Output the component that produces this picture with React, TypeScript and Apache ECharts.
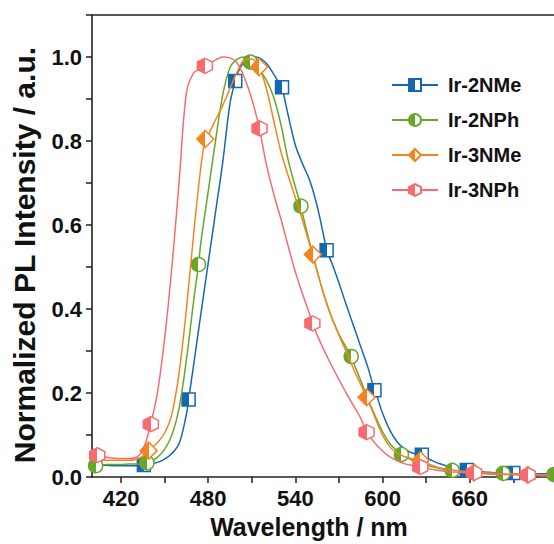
import React, { useEffect, useRef } from "react";
import * as echarts from "echarts";

const seriesNames = ["Ir-2NMe", "Ir-2NPh", "Ir-3NMe", "Ir-3NPh"];
const seriesColors = ["#1667b1", "#66a72b", "#f5841f", "#f86b6e"];

const wavelengths = [
  400, 405, 410, 415, 420, 425, 430, 435, 440, 445, 450, 455, 460, 465, 470, 475,
  480, 485, 490, 495, 500, 505, 510, 515, 520, 525, 530, 535, 540, 545, 550, 555,
  560, 565, 570, 575, 580, 585, 590, 595, 600, 605, 610, 615, 620, 625, 630, 635,
  640, 645, 650, 655, 660, 665, 670, 675, 680, 685, 690, 695, 700, 705, 710, 715,
];

const ir2NMe = [
  0.030, 0.029, 0.028, 0.027, 0.027, 0.027, 0.027, 0.028, 0.030, 0.035, 0.043, 0.056, 0.080, 0.150, 0.268, 0.390,
  0.510, 0.630, 0.750, 0.890, 0.960, 0.990, 1.000, 0.998, 0.985, 0.960, 0.930, 0.862, 0.790, 0.745, 0.705, 0.645,
  0.565, 0.510, 0.462, 0.410, 0.360, 0.310, 0.260, 0.205, 0.152, 0.112, 0.084, 0.067, 0.058, 0.054, 0.046, 0.038,
  0.031, 0.026, 0.022, 0.019, 0.016, 0.014, 0.012, 0.011, 0.010, 0.010, 0.010, 0.009, 0.009, 0.008, 0.008, 0.008,
];
const ir2NPh = [
  0.025, 0.028, 0.030, 0.030, 0.030, 0.031, 0.031, 0.032, 0.036, 0.047, 0.066, 0.100, 0.165, 0.280, 0.420, 0.560,
  0.680, 0.800, 0.910, 0.975, 0.995, 1.000, 0.985, 0.970, 0.945, 0.905, 0.840, 0.755, 0.690, 0.625, 0.555, 0.490,
  0.430, 0.380, 0.340, 0.308, 0.272, 0.230, 0.185, 0.145, 0.108, 0.080, 0.062, 0.050, 0.041, 0.034, 0.028, 0.024,
  0.020, 0.017, 0.015, 0.013, 0.012, 0.011, 0.010, 0.009, 0.009, 0.008, 0.008, 0.007, 0.007, 0.006, 0.006, 0.006,
];
const ir3NMe = [
  0.040, 0.040, 0.040, 0.040, 0.040, 0.040, 0.042, 0.050, 0.066, 0.082, 0.105, 0.150, 0.250, 0.400, 0.580, 0.740,
  0.815, 0.850, 0.885, 0.925, 0.965, 0.993, 0.995, 0.976, 0.925, 0.850, 0.775, 0.718, 0.665, 0.610, 0.552, 0.490,
  0.430, 0.380, 0.338, 0.298, 0.258, 0.220, 0.183, 0.140, 0.100, 0.072, 0.057, 0.049, 0.044, 0.040, 0.033, 0.027,
  0.022, 0.019, 0.016, 0.014, 0.012, 0.011, 0.010, 0.009, 0.008, 0.007, 0.006, 0.006, 0.005, 0.005, 0.004, 0.004,
];
const ir3NPh = [
  0.062, 0.052, 0.047, 0.045, 0.044, 0.044, 0.046, 0.065, 0.118, 0.200, 0.330, 0.500, 0.705, 0.915, 0.962, 0.972,
  0.982, 0.993, 1.000, 0.998, 0.985, 0.950, 0.900, 0.835, 0.745, 0.675, 0.615, 0.550, 0.488, 0.435, 0.385, 0.338,
  0.300, 0.265, 0.232, 0.200, 0.170, 0.140, 0.102, 0.080, 0.062, 0.048, 0.039, 0.032, 0.028, 0.025, 0.021, 0.018,
  0.015, 0.013, 0.012, 0.011, 0.010, 0.009, 0.008, 0.007, 0.007, 0.006, 0.006, 0.005, 0.005, 0.005, 0.004, 0.004,
];

// marker points [wavelength, intensity]
const ir2NMeMarkers = [
  [435.7, 0.029], [466.5, 0.185], [498.6, 0.943], [530.8, 0.928], [561.5, 0.540],
  [594.4, 0.207], [627, 0.053], [658, 0.017], [690, 0.010],
];
const ir2NPhMarkers = [
  [402.5, 0.027], [437.8, 0.034], [473.3, 0.506], [508.9, 0.988], [543.8, 0.645],
  [578.4, 0.287], [613, 0.054], [648, 0.016], [683, 0.009], [718, 0.006],
];
const ir3NMeMarkers = [
  [439, 0.063], [478, 0.805], [515, 0.976], [552, 0.530],
  [589, 0.190], [626, 0.040], [663, 0.011], [700, 0.005],
];
const ir3NPhMarkers = [
  [403.6, 0.052], [440.5, 0.126], [477.7, 0.979], [515.3, 0.830], [551.7, 0.366],
  [589, 0.107], [626, 0.024], [663, 0.010], [700, 0.005],
];

const xTickValues = [420, 450, 480, 510, 540, 570, 600, 630, 660, 690];
const xLabelValues = [420, 480, 540, 600, 660];

const hexPath = "path://M5,0 L9.33,2.5 L9.33,7.5 L5,10 L0.67,7.5 L0.67,2.5 Z";
const symbols = ["rect", "circle", "diamond", hexPath];
const symbolSizes = [13, 14, 17, 15];

const curves = [ir2NMe, ir2NPh, ir3NMe, ir3NPh];
const markers = [ir2NMeMarkers, ir2NPhMarkers, ir3NMeMarkers, ir3NPhMarkers];

const FONT = "'Liberation Sans', Arial, sans-serif";

function halfFill(c: string) {
  return new echarts.graphic.LinearGradient(0, 0, 1, 0, [
    { offset: 0, color: c },
    { offset: 0.5, color: c },
    { offset: 0.5, color: "#ffffff" },
    { offset: 1, color: "#ffffff" },
  ]);
}

function buildData(curve: number[], mk: number[][]) {
  const pts: any[] = curve.map((v, i) => ({ value: [wavelengths[i], v], symbol: "none" }));
  mk.forEach((m) => pts.push({ value: [m[0], m[1]] }));
  pts.sort((a, b) => a.value[0] - b.value[0]);
  return pts;
}

export default function App() {
  const ref = useRef<HTMLDivElement>(null);
  useEffect(() => {
    if (!ref.current) return;
    const chart = echarts.init(ref.current, null, { renderer: "svg" });
    const series = seriesNames.map((name, i) => ({
      name,
      type: "line",
      xAxisIndex: 0,
      yAxisIndex: 0,
      smooth: 0.35,
      showAllSymbol: true,
      symbol: symbols[i],
      symbolSize: symbolSizes[i],
      data: buildData(curves[i], markers[i]),
      lineStyle: { color: seriesColors[i], width: 1.5 },
      itemStyle: { color: halfFill(seriesColors[i]), borderColor: seriesColors[i], borderWidth: 1.5 },
      emphasis: { disabled: true },
      z: 2 + i,
    }));
    chart.setOption({
      animation: false,
      grid: { left: 92, top: 15, bottom: 64, right: 0 },
      legend: {
        orient: "vertical",
        left: 386,
        top: 70,
        itemWidth: 46,
        itemHeight: 15,
        itemGap: 15,
        data: seriesNames,
        textStyle: { fontFamily: FONT, fontWeight: "bold", fontSize: 20, color: "#111", padding: [0, 0, 0, 5] },
      },
      xAxis: [
        {
          type: "value",
          min: 400,
          max: 718,
          name: "Wavelength / nm",
          nameLocation: "middle",
          nameGap: 34,
          nameTextStyle: { fontFamily: FONT, fontWeight: "bold", fontSize: 25, color: "#111", padding: [0, 28, 0, 0] },
          axisLine: { lineStyle: { color: "#222", width: 1.6 } },
          axisTick: { show: true, customValues: xTickValues, length: 6, lineStyle: { color: "#222", width: 1.5 } },
          axisLabel: {
            customValues: xLabelValues,
            margin: 10,
            fontFamily: FONT,
            fontWeight: "bold",
            fontSize: 22,
            color: "#111",
          },
          splitLine: { show: false },
        },
        {
          type: "value",
          position: "top",
          min: 400,
          max: 718,
          axisLine: { show: true, lineStyle: { color: "#222", width: 1.6 } },
          axisTick: { show: false },
          axisLabel: { show: false },
          splitLine: { show: false },
        },
      ],
      yAxis: {
        type: "value",
        min: 0,
        max: 1.1,
        interval: 0.1,
        name: "Normalized PL Intensity / a.u.",
        nameLocation: "middle",
        nameGap: 53,
        nameTextStyle: { fontFamily: FONT, fontWeight: "bold", fontSize: 30, color: "#111", padding: [0, 18, 0, 0] },
        axisLine: { show: true, lineStyle: { color: "#222", width: 1.6 } },
        axisTick: { show: true, length: 6, lineStyle: { color: "#222", width: 1.5 } },
        axisLabel: {
          margin: 10,
          fontFamily: FONT,
          fontWeight: "bold",
          fontSize: 22,
          color: "#111",
          formatter: (v: number) => {
            const k = Math.round(v * 10);
            return k % 2 === 0 && k <= 10 ? (k / 10).toFixed(1) : "";
          },
        },
        splitLine: { show: false },
      },
      series,
    });
    return () => chart.dispose();
  }, []);
  return (
    <div
      ref={ref}
      style={{ position: "absolute", left: 0, top: 0, width: 554, height: 544, background: "#fff" }}
    />
  );
}
